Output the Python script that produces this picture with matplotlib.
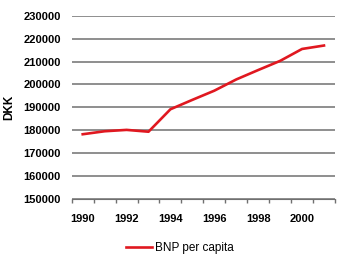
import numpy as np
import matplotlib.pyplot as plt
from matplotlib.ticker import FixedLocator

plt.rcParams['font.family'] = ['Liberation Sans', 'DejaVu Sans']

years = [1990, 1991, 1992, 1993, 1994, 1995, 1996, 1997, 1998, 1999, 2000, 2001]
bnp = [178300, 179600, 180200, 179400, 189200, 193300, 197300, 202200, 206300, 210300, 215500, 217000]
yticks = [150000, 160000, 170000, 180000, 190000, 200000, 210000, 220000, 230000]
xlabels = ['1990', '1992', '1994', '1996', '1998', '2000']

fig = plt.figure(figsize=(3.5, 2.62), dpi=100)
ax = fig.add_axes([0.205, 0.240, 0.752, 0.700])

x = np.arange(len(years))
ax.plot(x, bnp, color='#e01820', lw=1.9, label='BNP per capita')

ax.set_xlim(-0.5, len(years) - 0.5)
ax.set_ylim(yticks[0], yticks[-1])
ax.set_yticks(yticks)
ax.set_yticklabels([str(v) for v in yticks], fontsize=8, fontweight='bold')
ax.grid(axis='y', color='#707070', lw=1.1)
ax.set_axisbelow(True)

ax.set_xticks(x[::2])
ax.set_xticklabels(xlabels, fontsize=8, fontweight='bold')
ax.xaxis.set_minor_locator(FixedLocator(np.arange(-0.5, len(years), 1)))
ax.tick_params(axis='x', which='major', length=0, pad=11)
ax.tick_params(axis='x', which='minor', length=3, color='#707070', width=1)
ax.tick_params(axis='y', length=0, pad=8)

for s in ['top', 'right', 'left']:
    ax.spines[s].set_visible(False)
ax.spines['bottom'].set_color('#707070')

ax.set_ylabel('DKK', fontsize=8.5, fontweight='bold', labelpad=6)

fig.legend(loc='center', bbox_to_anchor=(0.514, 0.053), frameon=False,
           fontsize=8.5, handlelength=2.2, handletextpad=0.2)

fig.savefig('out.png', dpi=100)
